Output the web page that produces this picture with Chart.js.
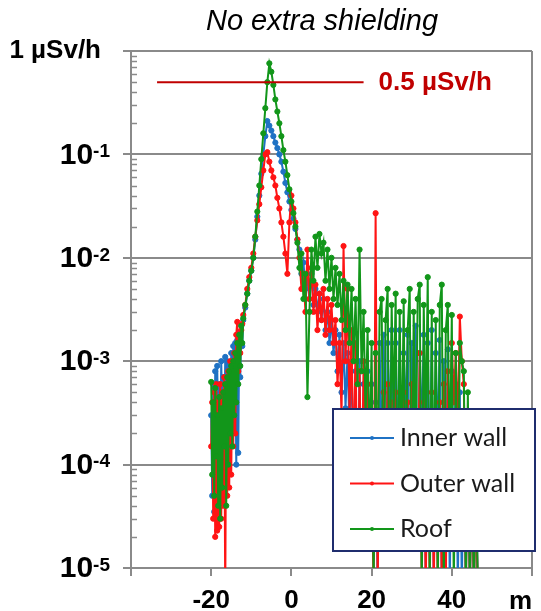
<!DOCTYPE html>
<html>
<head>
<meta charset="utf-8">
<script src="https://cdn.jsdelivr.net/npm/chart.js@4.4.1/dist/chart.umd.min.js"></script>
<style>
  body { margin: 0; background: #fff; }
  canvas { display: block; }
</style>
</head>
<body>
<canvas id="doseChart" width="541" height="611"></canvas>
<script>
// distance along the survey line (m)
const distance = [
  -20, -19.75, -19.5, -19.25, -19, -18.75, -18.5, -18.25, -18, -17.75,
  -17.5, -17.25, -17, -16.75, -16.5, -16.25, -16, -15.75, -15.5, -15.25,
  -15, -14.75, -14.5, -14.25, -14, -13.75, -13.5, -13.25, -13, -12.75,
  -12.5, -12.25, -12,
  -11.5, -11, -10.5,
  -10, -9.5, -9, -8.5, -8, -7.5, -7, -6.5, -6, -5.5,
  -5, -4.5, -4, -3.5, -3, -2.5, -2, -1.5, -1, -0.5,
  0, 0.5, 1, 1.5, 2, 2.5, 3, 3.5, 4, 4.5,
  5, 5.5, 6, 6.5, 7, 7.5, 8, 8.5, 9, 9.5,
  10, 10.5, 11, 11.5, 12, 12.5, 13, 13.5, 14, 14.5,
  15, 15.5, 16, 16.5, 17, 17.5, 18, 18.5, 19, 19.5,
  20, 20.5, 21, 21.5, 22, 22.5, 23, 23.5, 24, 24.5,
  25, 25.5, 26, 26.5, 27, 27.5, 28, 28.5, 29, 29.5,
  30, 30.5, 31, 31.5, 32, 32.5, 33, 33.5, 34, 34.5,
  35, 35.5, 36, 36.5, 37, 37.5, 38, 38.5, 39, 39.5,
  40, 40.5, 41, 41.5, 42, 42.5, 43, 43.5, 44, 44.5,
  45, 45.5, 46, 46.5
];

// dose rate (µSv/h)
const innerWall = [
  3e-4, 5e-5, 6e-4, 3.5e-5, 8e-4, 1e-4, 9e-4, 2e-4, 6e-4, 8e-5,
  1e-3, 3e-4, 7e-4, 1.5e-4, 1.1e-3, 2.5e-4, 1e-3, 1.2e-4, 9e-4, 3e-4,
  1.2e-3, 2e-4, 1.4e-3, 4e-4, 1.5e-3, 1e-4, 1.6e-3, 1.3e-4, 1.9e-3, 7e-4,
  2.2e-3, 1.4e-3, 2.5e-3,
  3.3e-3, 4.5e-3, 6e-3,
  7.5e-3, 1e-2, 1.5e-2, 2.5e-2, 4e-2, 6.5e-2, 0.1, 0.15, 0.21, 0.19,
  0.17, 0.15, 0.13, 0.115, 0.1, 8.5e-2, 6.8e-2, 5.3e-2, 4.3e-2, 3.5e-2,
  2.9e-2, 2.4e-2, 1.9e-2, 1.5e-2, 1.2e-2, 7e-3, 9e-3, 5e-3, 6e-3, 4e-3,
  7e-3, 3.5e-3, 5e-3, 3e-3, 4.5e-3, 2.5e-3, 4e-3, 2e-3, 3e-3, 1.5e-3,
  2.5e-3, 1.2e-3, 2e-3, 8e-4, 1.8e-3, 5e-4, 1.5e-3, 3.5e-4, 1.2e-3, 2e-4,
  1e-3, 1e-4, 8e-4, 3e-5, 1e-3, 2e-5, 6e-4, 4e-5, 8e-4, 5e-5,
  6e-4, 3e-5, 4e-4, 6e-6, 1.5e-3, 1e-4, 1.8e-3, 2e-5, 1.5e-3, 2e-4,
  2e-3, 3e-5, 1.5e-3, 1e-4, 2e-3, 2e-5, 1.2e-3, 3e-4, 1.8e-3, 4e-5,
  1.5e-3, 1e-4, 2.2e-3, 2.5e-5, 1.2e-3, 2e-4, 1.8e-3, 6e-6, 1.5e-3, 5e-5,
  2e-3, 6e-6, 1.2e-3, 1.5e-4, 1.6e-3, 6e-6, 1e-3, 3e-5, 1.3e-3, 6e-6,
  8e-4, 1e-4, 6e-4, 6e-6, 5e-4, 6e-6, 3e-4, 6e-6, 2e-4, 6e-6,
  1e-4, 6e-6, 8e-5, 6e-6
];

const outerWall = [
  1.5e-4, 4e-4, 3e-5, 5e-4, 2e-5, 6e-4, 2.3e-5, 4e-4, 2.5e-5, 6e-4,
  3e-5, 5e-4, 4e-5, 7e-4, 5e-6, 6e-4, 5e-5, 8e-4, 6e-5, 1e-3,
  8e-5, 9e-4, 1.5e-4, 1.2e-3, 2e-4, 1.8e-3, 2.4e-3, 8e-4, 1.5e-3, 1.2e-3,
  2e-3, 2.3e-3, 2.8e-3,
  3.5e-3, 5e-3, 6.5e-3,
  8e-3, 1.1e-2, 1.6e-2, 2.3e-2, 3.3e-2, 4.8e-2, 7e-2, 0.1, 0.105, 0.085,
  0.07, 0.06, 0.05, 0.038, 0.03, 0.022, 0.016, 0.011, 7e-3, 0.022,
  0.04, 0.03, 0.022, 0.015, 0.01, 5e-3, 7e-3, 3e-3, 0.012, 4e-3,
  8e-3, 3e-3, 5.5e-3, 2e-3, 4.5e-3, 2.5e-3, 5e-3, 1.8e-3, 4e-3, 2e-3,
  3.5e-3, 1.5e-3, 2.5e-3, 6e-4, 1.5e-3, 3e-4, 1.3e-2, 1e-3, 5e-3, 3e-4,
  2e-3, 6e-5, 1.5e-3, 2e-5, 8e-4, 3e-5, 1e-3, 3e-5, 6e-4, 2e-5,
  1e-4, 6e-6, 2.7e-2, 6e-6, 3e-4, 2e-5, 5e-4, 3e-5, 6e-4, 2e-5,
  4e-4, 2e-5, 5e-4, 3e-5, 3e-4, 2e-5, 5e-4, 2.5e-5, 4e-4, 2e-5,
  6e-4, 2e-5, 3e-4, 3e-5, 1.2e-3, 6e-6, 4e-4, 6e-6, 3e-4, 6e-6,
  5e-4, 6e-6, 3e-4, 6e-6, 4e-4, 6e-6, 6e-4, 6e-6, 8e-4, 1.5e-4,
  1.5e-3, 4e-4, 1.2e-3, 2e-4, 2.7e-3, 1e-3, 6e-4, 6e-6, 3e-4, 6e-6,
  1e-4, 6e-6, 5e-5, 6e-6
];

const roof = [
  6.3e-4, 8e-5, 4e-4, 5e-5, 5.5e-4, 1.2e-4, 3e-4, 4e-5, 4.5e-4, 3e-5,
  3.5e-4, 6e-5, 5e-4, 1.5e-4, 6e-4, 4e-5, 7e-4, 1e-4, 8e-4, 2e-4,
  9e-4, 1.5e-4, 1e-3, 3e-4, 1.2e-3, 4e-4, 1.5e-3, 6e-4, 1.8e-3, 9e-4,
  2.2e-3, 1.5e-3, 2.6e-3,
  3.5e-3, 4.5e-3, 6e-3,
  7.5e-3, 1e-2, 1.6e-2, 2.8e-2, 5e-2, 9e-2, 0.16, 0.28, 0.5, 0.76,
  0.63, 0.47, 0.34, 0.26, 0.2, 0.15, 0.11, 8.5e-2, 6.3e-2, 4.6e-2,
  3.5e-2, 2.7e-2, 2e-2, 1.4e-2, 8e-3, 1.1e-2, 4e-3, 7e-3, 4.5e-4, 3e-3,
  1.2e-2, 6e-3, 1.6e-2, 8e-3, 1.7e-2, 1.1e-2, 1.4e-2, 6e-3, 1.2e-2, 5e-3,
  1e-2, 4e-3, 8e-3, 3.5e-3, 7e-3, 2.5e-3, 6e-3, 2e-3, 5.5e-3, 1.5e-3,
  5e-3, 1e-3, 4e-3, 6e-4, 1.2e-2, 8e-4, 3e-3, 3e-4, 2e-3, 1e-4,
  1.5e-3, 6e-6, 1.2e-3, 5e-5, 3e-3, 4e-3, 2e-5, 2.5e-3, 5e-3, 2e-5,
  3.5e-3, 3e-4, 4.5e-3, 2e-5, 3e-3, 1e-4, 3.8e-3, 3e-5, 2e-3, 5e-3,
  2e-5, 3e-3, 1e-4, 4e-3, 5.5e-3, 6e-6, 3.5e-3, 2e-4, 6.5e-3, 6e-6,
  3e-3, 3e-5, 2.5e-3, 6e-6, 3.5e-3, 5.5e-3, 6e-6, 2e-3, 3.5e-3, 8e-5,
  2.8e-3, 6e-6, 1.2e-3, 3e-5, 1.5e-3, 1e-3, 8e-4, 6e-6, 5e-4, 6e-6,
  2e-4, 6e-6, 1e-4, 6e-6
];

const seriesNames = ['Inner wall', 'Outer wall', 'Roof'];
const seriesColors = ['#1f72c4', '#ff1414', '#12961a'];

// 0.5 µSv/h reference line
const limitX = [-33.5, 18];
const limitY = [0.5, 0.5];
const limitLabel = '0.5 µSv/h';

const xTickValues = [-40, -20, 0, 20, 40, 60];
const xTickLabels = ['', '-20', '0', '20', '40', ''];
const xUnit = 'm';
const yTickValues = [1e-5, 1e-4, 1e-3, 1e-2, 1e-1, 1];
const yTickBase = ['10', '10', '10', '10', '10', '1 µSv/h'];
const yTickExp = ['-5', '-4', '-3', '-2', '-1', ''];
const chartTitle = 'No extra shielding';

const FONT = '"Liberation Sans", Arial, sans-serif';
const GRID = '#8a8a8a';

function series(i, ys, order) {
  return {
    label: seriesNames[i],
    data: distance.map((d, k) => ({ x: d, y: ys[k] })),
    showLine: true,
    borderColor: seriesColors[i],
    backgroundColor: seriesColors[i],
    borderWidth: 2,
    pointRadius: 2.6,
    pointBorderWidth: 1,
    pointHoverRadius: 0,
    order: order,
    clip: 0,
  };
}

const decor = {
  id: 'decor',
  beforeDraw(chart) {
    const c = chart.ctx;
    c.save();
    c.fillStyle = '#fff';
    c.fillRect(0, 0, chart.width, chart.height);
    c.restore();
  },
  afterDraw(chart) {
    const c = chart.ctx;
    const a = chart.chartArea;
    const xs = chart.scales.x;
    const ys = chart.scales.y;
    c.save();

    // right border
    c.strokeStyle = GRID;
    c.lineWidth = 2;
    c.beginPath();
    c.moveTo(a.right, a.top);
    c.lineTo(a.right, a.bottom);
    c.stroke();

    // minor ticks inside the y axis
    c.lineWidth = 1.5;
    for (let k = 0; k < yTickValues.length - 1; k++) {
      for (let m = 2; m <= 9; m++) {
        const py = Math.round(ys.getPixelForValue(yTickValues[k] * m)) + 0.5;
        c.beginPath();
        c.moveTo(a.left, py);
        c.lineTo(a.left + 6, py);
        c.stroke();
      }
    }

    // y tick labels with superscripts
    c.fillStyle = '#000';
    yTickValues.forEach((v, k) => {
      const py = ys.getPixelForValue(v);
      const right = 110;
      if (yTickExp[k]) {
        c.font = 'bold 19px ' + FONT;
        c.textAlign = 'right';
        c.textBaseline = 'top';
        const ew = c.measureText(yTickExp[k]).width;
        c.fillText(yTickExp[k], right, py - 12);
        c.font = 'bold 30px ' + FONT;
        c.textBaseline = 'middle';
        c.fillText(yTickBase[k], right - ew, py + 1);
      } else {
        c.font = 'bold 26px ' + FONT;
        c.textAlign = 'right';
        c.textBaseline = 'middle';
        c.fillText(yTickBase[k], 101, py);
      }
    });

    // unit on the x axis
    c.font = 'bold 26px ' + FONT;
    c.textAlign = 'right';
    c.textBaseline = 'middle';
    c.fillText(xUnit, a.right, 602);

    // title
    c.font = 'italic 29px ' + FONT;
    c.textAlign = 'center';
    c.textBaseline = 'middle';
    c.fillText(chartTitle, 322, 22);

    // reference label
    c.fillStyle = '#c00000';
    c.font = 'bold 26px ' + FONT;
    c.textAlign = 'left';
    c.fillText(limitLabel, xs.getPixelForValue(limitX[1]) + 15, ys.getPixelForValue(limitY[1]) + 1);

    // legend
    const lx = 333, ly = 409, lw = 202, lh = 142;
    c.fillStyle = '#fff';
    c.fillRect(lx, ly, lw, lh);
    c.strokeStyle = '#1f2d6e';
    c.lineWidth = 2;
    c.strokeRect(lx, ly, lw, lh);
    c.font = '25px Lato, ' + FONT;
    c.textBaseline = 'middle';
    c.textAlign = 'left';
    seriesNames.forEach((name, k) => {
      const ry = 438 + k * 45.5;
      c.strokeStyle = seriesColors[k];
      c.lineWidth = 2;
      c.beginPath();
      c.moveTo(350, ry);
      c.lineTo(394, ry);
      c.stroke();
      c.fillStyle = seriesColors[k];
      c.beginPath();
      c.arc(372, ry, 2, 0, Math.PI * 2);
      c.fill();
      c.fillStyle = '#1a1a1a';
      c.fillText(name, 400, ry);
    });
    c.restore();
  }
};

const ctx = document.getElementById('doseChart').getContext('2d');

const chart = new Chart(ctx, {
  type: 'scatter',
  data: {
    datasets: [
      series(0, innerWall, 3),
      series(1, outerWall, 2),
      series(2, roof, 1),
      {
        label: 'limit',
        data: limitX.map((x, k) => ({ x: x, y: limitY[k] })),
        showLine: true,
        borderColor: '#c00000',
        borderWidth: 2,
        pointRadius: 0,
        order: 0,
      },
    ],
  },
  options: {
    responsive: false,
    animation: false,
    layout: { padding: { top: 51, right: 3, left: 0, bottom: 0 } },
    plugins: {
      legend: { display: false },
      tooltip: { enabled: false },
      title: { display: false },
    },
    scales: {
      x: {
        type: 'linear',
        min: -40,
        max: 60,
        afterBuildTicks: (s) => { s.ticks = xTickValues.map((v) => ({ value: v })); },
        afterFit: (s) => { s.height = 43; },
        grid: { drawOnChartArea: false, color: GRID, lineWidth: 2, tickLength: 8 },
        border: { color: GRID, width: 2 },
        ticks: {
          autoSkip: false,
          maxRotation: 0,
          padding: 9,
          color: '#000',
          font: { family: FONT, size: 26, weight: 'bold' },
          callback: (v) => xTickLabels[xTickValues.indexOf(v)],
        },
      },
      y: {
        type: 'logarithmic',
        min: 1e-5,
        max: 1,
        afterBuildTicks: (s) => { s.ticks = yTickValues.map((v) => ({ value: v })); },
        afterFit: (s) => { s.width = 131; },
        grid: { color: GRID, lineWidth: 2, tickLength: 8 },
        border: { color: GRID, width: 2 },
        ticks: { display: false },
      },
    },
  },
  plugins: [decor],
});
</script>
</body>
</html>
